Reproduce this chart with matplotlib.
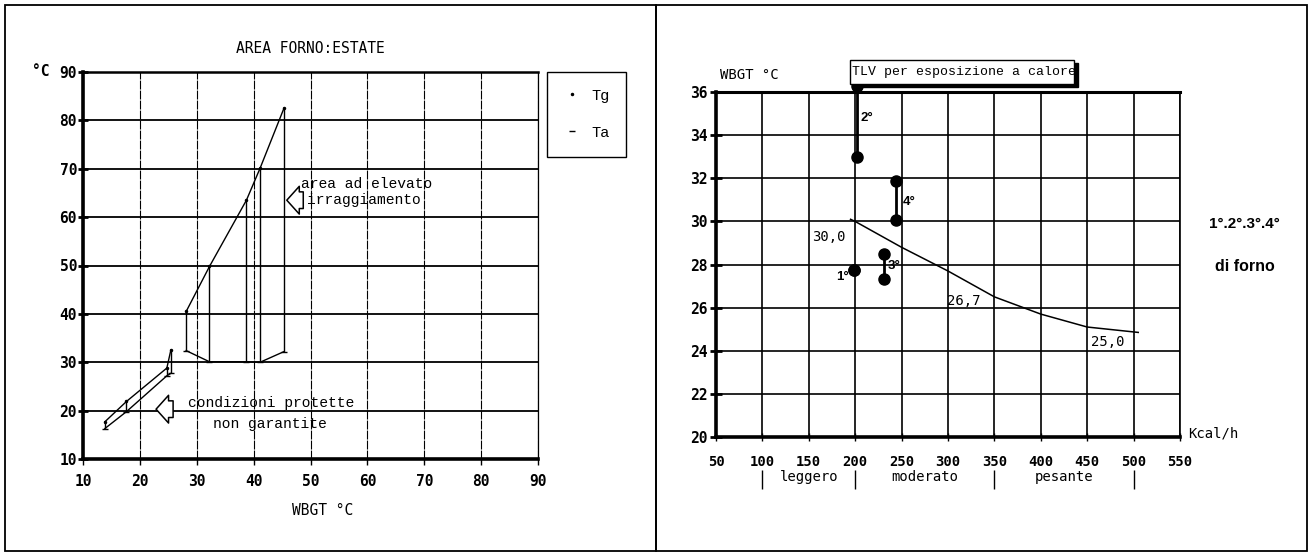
import matplotlib
matplotlib.use('Agg')
from matplotlib import pyplot as plt
from matplotlib.patches import Rectangle
from matplotlib.lines import Line2D
import matplotlib.transforms as mtransforms

# --- left panel: AREA FORNO: ESTATE ---
wbgt_hot = [28.1, 32.2, 38.7, 41.1, 45.3]
tg_hot = [40.5, 49.8, 63.5, 70.1, 82.5]
ta_hot = [32.4, 30.1, 30.1, 30.0, 32.2]

wbgt_safe = [13.8, 17.6, 24.7, 25.4]
tg_safe = [17.7, 21.9, 28.8, 32.5]
ta_safe = [16.3, 19.8, 27.2, 27.7]

left_ticks = [10, 20, 30, 40, 50, 60, 70, 80, 90]

# --- right panel: TLV per esposizione a calore ---
tlv_kcal = [195, 200, 250, 300, 350, 400, 450, 505]
tlv_wbgt = [30.1, 30.0, 28.8, 27.7, 26.5, 25.7, 25.1, 24.85]

forno_names = ['1°', '2°', '3°', '4°']
forno_kcal = [199, 202, 231, 244]
forno_high = [27.75, 36.3, 28.5, 31.9]
forno_low = [27.75, 33.0, 27.35, 30.05]

work_classes = ['leggero', 'moderato', 'pesante']
work_bounds = [100, 200, 350, 500]

right_xticks = [50, 100, 150, 200, 250, 300, 350, 400, 450, 500, 550]
right_yticks = [20, 22, 24, 26, 28, 30, 32, 34, 36]

mono = 'DejaVu Sans Mono'
type_font = 'Liberation Mono'
sans = 'Liberation Sans'

W, H = 1312, 556
fig = plt.figure(figsize=(W / 100, H / 100), dpi=100)

# panel frames
for x0, x1 in [(5, 656), (656, 1307)]:
    fig.add_artist(Rectangle((x0 / W, 5 / H), (x1 - x0) / W, 546 / H,
                             transform=fig.transFigure, fill=False,
                             edgecolor='black', lw=1.3))

# ================= left panel =================
ax = fig.add_axes([83.3 / W, 1 - 459 / H, 454.7 / W, 387 / H])
ax.set_xlim(10, 90)
ax.set_ylim(10, 90)

ax.grid(axis='y', color='black', lw=1.3)
ax.grid(axis='x', color='black', lw=0.8, linestyle=(0, (8, 1)))
ax.set_axisbelow(True)
for side, lw in [('left', 2.6), ('bottom', 2.6), ('top', 1.8), ('right', 0.9)]:
    ax.spines[side].set_linewidth(lw)

ax.set_xticks(left_ticks, labels=[str(t) for t in left_ticks],
              fontfamily=mono, fontweight='bold', fontsize=10.5)
ax.set_yticks(left_ticks, labels=[str(t) for t in left_ticks],
              fontfamily=mono, fontweight='bold', fontsize=10.5)
ax.tick_params(axis='y', direction='inout', length=7, width=2, pad=1)
ax.tick_params(axis='x', direction='out', length=4, width=1, pad=7)

for xs, tg, ta in [(wbgt_hot, tg_hot, ta_hot), (wbgt_safe, tg_safe, ta_safe)]:
    ax.plot(xs, tg, color='black', lw=1.0, marker='.', markersize=3)
    ax.plot(xs, ta, color='black', lw=1.0, marker='_', markersize=5)
    ax.vlines(xs, ta, tg, color='black', lw=1.0)

ax.set_title('AREA FORNO:ESTATE', fontfamily=mono, fontsize=10.5, pad=14)
ax.text(0.527, -0.132, 'WBGT °C', transform=ax.transAxes, ha='center',
        va='center', fontfamily=mono, fontsize=10.5)
ax.text(-0.075, 1.0, '°C', transform=ax.transAxes, ha='right',
        va='center', fontfamily=mono, fontweight='bold', fontsize=10.5)

arrow_props = dict(arrowstyle='simple,head_length=0.45,head_width=1.0,tail_width=0.6',
                   fc='white', ec='black', lw=1.1, shrinkA=0, shrinkB=0,
                   mutation_scale=20)
ax.annotate('', xy=(45.8, 63.5), xytext=(48.7, 63.5), arrowprops=arrow_props)
ax.annotate('', xy=(22.8, 20.3), xytext=(25.8, 20.3), arrowprops=arrow_props)

ax.text(48.3, 66.9, 'area ad elevato', fontfamily=type_font, fontsize=10.5,
        va='center', ha='left')
ax.text(49.3, 63.5, 'irraggiamento', fontfamily=type_font, fontsize=10.5,
        va='center', ha='left')
ax.text(28.5, 21.6, 'condizioni protette', fontfamily=type_font, fontsize=10.5,
        va='center', ha='left')
ax.text(32.8, 17.2, 'non garantite', fontfamily=type_font, fontsize=10.5,
        va='center', ha='left')

handles = [Line2D([], [], color='black', marker='.', markersize=3, lw=0),
           Line2D([], [], color='black', marker='_', markersize=5, lw=0)]
leg = ax.legend(handles, ['Tg', 'Ta'], loc='upper left',
                bbox_to_anchor=(1.02, 1.0), borderaxespad=0,
                prop={'family': type_font, 'size': 11},
                labelspacing=1.5, borderpad=1.1, handlelength=1.0,
                handletextpad=0.8, fancybox=False, edgecolor='black',
                framealpha=1)
leg.get_frame().set_linewidth(1.0)

# ================= right panel =================
ax2 = fig.add_axes([716 / W, 1 - 436.9 / H, 464 / W, 344.7 / H])
ax2.set_xlim(50, 550)
ax2.set_ylim(20, 36)
ax2.grid(color='black', lw=1.2)
ax2.set_axisbelow(True)
for side, lw in [('left', 2.6), ('bottom', 2.6), ('top', 2.2), ('right', 1.2)]:
    ax2.spines[side].set_linewidth(lw)

ax2.set_xticks(right_xticks, labels=[str(t) for t in right_xticks],
               fontfamily=mono, fontweight='bold', fontsize=10)
ax2.set_yticks(right_yticks, labels=[str(t) for t in right_yticks],
               fontfamily=mono, fontweight='bold', fontsize=10.5)
ax2.tick_params(axis='y', direction='inout', length=8, width=2, pad=2)
ax2.tick_params(axis='x', direction='inout', length=6, width=1, pad=10)

ax2.plot(tlv_kcal, tlv_wbgt, color='black', lw=1.1)
ax2.text(172, 29.3, '30,0', fontfamily=mono, fontsize=10, ha='center', va='center')
ax2.text(317, 26.3, '26,7', fontfamily=mono, fontsize=10, ha='center', va='center')
ax2.text(472, 24.4, '25,0', fontfamily=mono, fontsize=10, ha='center', va='center')

ax2.vlines(forno_kcal, forno_low, forno_high, color='black', lw=2, clip_on=False)
ax2.plot(forno_kcal, forno_high, 'o', color='black', markersize=8, clip_on=False)
ax2.plot(forno_kcal, forno_low, 'o', color='black', markersize=8, clip_on=False)

# labels placed beside the middle of each stick
label_offsets = [(-13, -0.35), (11, 0.15), (11, 0.0), (14, -0.05)]
for name, x, hi, lo, (dx, dy) in zip(forno_names, forno_kcal, forno_high,
                                     forno_low, label_offsets):
    ax2.text(x + dx, (hi + lo) / 2 + dy, name, fontfamily=sans,
             fontweight='bold', fontsize=9.5, ha='center', va='center')

# TLV box with shadow
shadow = mtransforms.offset_copy(ax2.transData, fig=fig, x=4, y=-3, units='dots')
ax2.add_patch(Rectangle((194, 36.38), 242, 1.1, transform=shadow,
                        facecolor='black', edgecolor='black', clip_on=False, zorder=5))
ax2.add_patch(Rectangle((194, 36.38), 242, 1.1, facecolor='white',
                        edgecolor='black', lw=1.0, clip_on=False, zorder=6))
ax2.text(197, 36.93, 'TLV per esposizione a calore', fontfamily=type_font,
         fontsize=9.5, ha='left', va='center', zorder=7, clip_on=False)

ax2.text(0.009, 1.05, 'WBGT °C', transform=ax2.transAxes, fontfamily=mono,
         fontsize=10, ha='left', va='center')
ax2.text(1.017, 0.01, 'Kcal/h', transform=ax2.transAxes, fontfamily=mono,
         fontsize=10, ha='left', va='center')

blend = mtransforms.blended_transform_factory(ax2.transData, ax2.transAxes)
ax2.vlines(work_bounds, -0.151, -0.096, transform=blend, color='black',
           lw=1.0, clip_on=False)
for name, lo, hi in zip(work_classes, work_bounds[:-1], work_bounds[1:]):
    ax2.text((lo + hi) / 2, -0.117, name, transform=blend, fontfamily=mono,
             fontsize=10, ha='center', va='center')

fig.text(1244 / W, 1 - 224 / H, '1°.2°.3°.4°', fontfamily=sans,
         fontweight='bold', fontsize=11, ha='center', va='center')
fig.text(1245 / W, 1 - 266.7 / H, 'di forno', fontfamily=sans,
         fontweight='bold', fontsize=11.5, ha='center', va='center')

fig.savefig('out.png', dpi=100)
